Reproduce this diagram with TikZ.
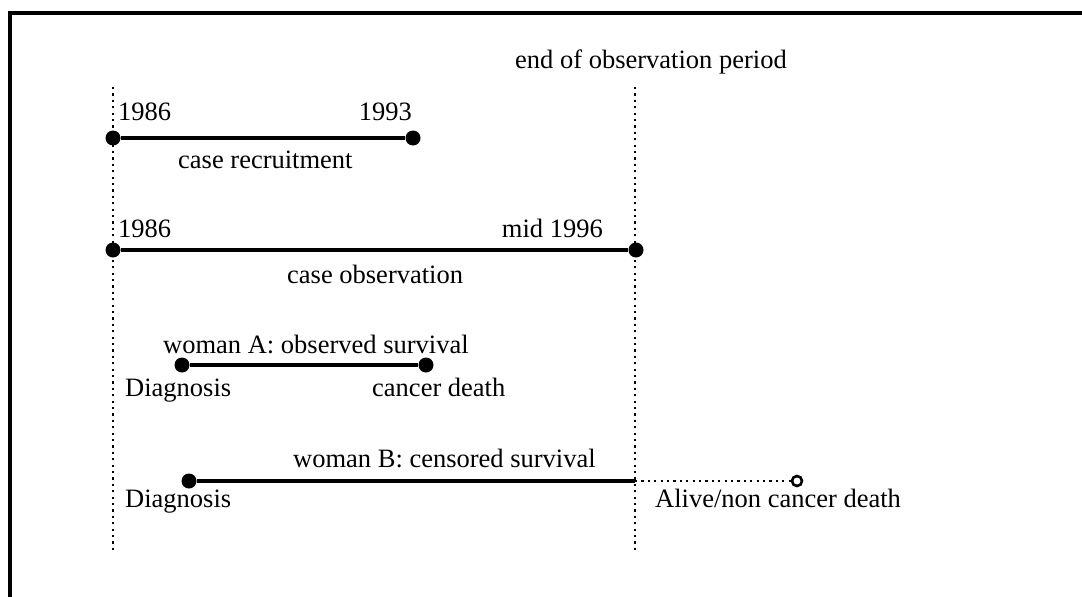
\documentclass[tikz,border=0pt]{standalone}
\usepackage{fontspec}
\setmainfont{Liberation Serif}
\usepackage{tikz}
\usetikzlibrary{positioning}

\begin{document}
\begin{tikzpicture}[
  x=1pt, y=-1pt,
  every node/.style={inner sep=0pt, font=\fontsize{26.5}{30}\selectfont},
  lbl/.style={anchor=base west},
  lblr/.style={anchor=base east},
  dot/.style={circle, fill=black, minimum size=15pt},
  odot/.style={circle, draw=black, fill=white, line width=2.6pt, minimum size=10pt},
  span/.style={line width=3.4pt},
  guide/.style={line width=2.4pt, dash pattern=on 2.2pt off 4.2pt},
]
\useasboundingbox (0,0) rectangle (1082,597);
% frame
\draw[line width=3.2pt] (10,597) -- (10,13) -- (1082,13);

% observation window
\coordinate (gl top) at (113,87);
\coordinate (gl bot) at (113,550);
\coordinate (gr top) at (635,87);
\coordinate (gr bot) at (635,550);
\draw[guide] (gl top) -- (gl bot);
\draw[guide] (gr top) -- (gr bot);
\node[lbl] (endobs) at (515,68) {end of observation period};

% case recruitment
\node[dot] (rec a) at (113,138) {};
\node[dot] (rec b) at (413,138) {};
\draw[span] (rec a) -- (rec b);
\node[lbl] (rec y0) at (118,120) {1986};
\node[lblr] (rec y1) at (412,120) {1993};
\node[lbl] (rec t) at (178,168) {case recruitment};

% case observation
\node[dot] (obs a) at (113,250) {};
\node[dot] (obs b) at (636,250) {};
\draw[span] (obs a) -- (obs b);
\node[lbl] (obs y0) at (118,237) {1986};
\node[lblr] (obs y1) at (603,237) {mid 1996};
\node[lbl] (obs t) at (287,283) {case observation};

% woman A
\node[dot] (wa a) at (182,365) {};
\node[dot] (wa b) at (426,365) {};
\draw[span] (wa a) -- (wa b);
\node[lbl] (wa t) at (163,353) {woman A: observed survival};
\node[lbl] (wa d) at (125,396) {Diagnosis};
\node[lbl] (wa e) at (372,396) {cancer death};

% woman B
\node[dot] (wb a) at (189,481) {};
\coordinate (wb cut) at (635,481);
\node[odot] (wb b) at (797,481) {};
\draw[span] (wb a) -- (wb cut);
\draw[guide] (wb cut) -- (wb b);
\node[lbl] (wb t) at (293,467) {woman B: censored survival};
\node[lbl] (wb d) at (125,507) {Diagnosis};
\node[lbl] (wb e) at (655,507) {Alive/non cancer death};
\end{tikzpicture}
\end{document}
